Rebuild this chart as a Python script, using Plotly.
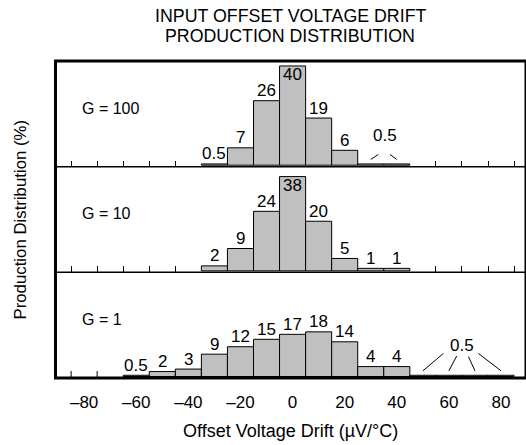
import plotly.graph_objects as go
from plotly.subplots import make_subplots

# ---------------- data ----------------
BIN_WIDTH = 10
PANEL_NAMES = ["G = 100", "G = 10", "G = 1"]

G100_X = [-30, -20, -10, 0, 10, 20, 30, 40]
G100_Y = [0.5, 7, 26, 40, 19, 6, 0.5, 0.5]

G10_X = [-30, -20, -10, 0, 10, 20, 30, 40]
G10_Y = [2, 9, 24, 38, 20, 5, 1, 1]

G1_X = [-60, -50, -40, -30, -20, -10, 0, 10, 20, 30, 40, 50, 60, 70, 80]
G1_Y = [0.5, 2, 3, 9, 12, 15, 17, 18, 14, 4, 4, 0.5, 0.5, 0.5, 0.5]

X_TICK_VALUES = [-80, -60, -40, -20, 0, 20, 40, 60, 80]

TITLE_LINES = ["INPUT OFFSET VOLTAGE DRIFT", "PRODUCTION DISTRIBUTION"]
X_TITLE = "Offset Voltage Drift (µV/°C)"
Y_TITLE = "Production Distribution (%)"

# ---------------- style / layout ----------------
W, H = 526, 445
ML, MR, MT, MB = 56, 1, 61, 66.5
PLOT_W = W - ML - MR
PLOT_H = H - MT - MB
PANEL_H = PLOT_H / 3
X_RANGE = [-90.8, 89.2]
Y_RANGE = [-0.6, 42]
FONT = "Liberation Sans, Arial, Helvetica, sans-serif"
FS_TITLE = 17.8
FS_TICK = 17
FS_XTITLE = 18
FS_YTITLE = 16.8
FS_VALUE = 17
FS_PANEL = 16
BAR_FILL = "#c0c0c0"
TICK_LEN = 6
TITLE_CENTER_PX = 290
TITLE_LINE_Y_PX = [15.5, 36]
XTITLE_Y_PX = 432
YTITLE_X_PX = 20

# callout geometry (label position and upper end of each leader line)
CALLOUTS = {
    1: dict(bars=[30, 40], label=(35.5, 12.0),
            tops=[(32.9, 4.3), (37.4, 4.3)]),
    3: dict(bars=[50, 60, 70, 80], label=(64.9, 12.6),
            tops=[(57.9, 9.3), (63.0, 8.3), (67.5, 8.0), (71.3, 9.3)]),
}

panels = [(PANEL_NAMES[0], G100_X, G100_Y),
          (PANEL_NAMES[1], G10_X, G10_Y),
          (PANEL_NAMES[2], G1_X, G1_Y)]

fig = make_subplots(rows=3, cols=1, vertical_spacing=0)

edges_all = [-85 + BIN_WIDTH * k for k in range(18)]

annotations = []
shapes = []


def fmt(v):
    return f"{v:g}"


def px_to_paper_x(px):
    return (px - ML) / PLOT_W


def px_to_paper_y(py):
    return (H - MB - py) / PLOT_H


tick_style = dict(ticks="inside", ticklen=TICK_LEN, tickwidth=1,
                  tickcolor="black")

for i, (name, xs, ys) in enumerate(panels, start=1):
    fig.add_trace(go.Bar(
        x=xs, y=ys, width=BIN_WIDTH,
        marker=dict(color=BAR_FILL, line=dict(color="black", width=1)),
        showlegend=False, hoverinfo="skip"), row=i, col=1)

    lo = min(xs) - BIN_WIDTH / 2
    hi = max(xs) + BIN_WIDTH / 2
    vis_edges = [e for e in edges_all if e < lo - 0.1 or e > hi + 0.1]

    xname = "xaxis" if i == 1 else f"xaxis{i}"
    yname = "yaxis" if i == 1 else f"yaxis{i}"
    xref = "x" if i == 1 else f"x{i}"
    yref = "y" if i == 1 else f"y{i}"

    xa = dict(range=X_RANGE, showgrid=False, zeroline=False, showline=False,
              fixedrange=True, automargin=False, tickmode="array")
    if i < 3:
        xa.update(tickvals=vis_edges, showticklabels=False, **tick_style)
    else:
        xa.update(tickvals=X_TICK_VALUES,
                  ticktext=[fmt(v).replace("-", "\u2013") for v in X_TICK_VALUES],
                  ticks="", showticklabels=True, ticklabelstandoff=12,
                  tickfont=dict(family=FONT, size=FS_TICK, color="black"))
        # bin-edge tick marks for the bottom panel
        for e in vis_edges:
            shapes.append(dict(type="line", xref=xref, yref=f"{yref} domain",
                               x0=e, x1=e, y0=0, y1=(TICK_LEN + 1) / PANEL_H,
                               line=dict(color="black", width=1)))
    fig.layout[xname].update(xa)
    fig.layout[yname].update(range=Y_RANGE, visible=False, fixedrange=True)

    # panel label
    annotations.append(dict(x=-81.6, y=23, xref=xref, yref=yref, text=name,
                            showarrow=False, xanchor="left", yanchor="middle",
                            font=dict(family=FONT, size=FS_PANEL, color="black")))

    callout = CALLOUTS.get(i)
    cbars = callout["bars"] if callout else []
    for x, v in zip(xs, ys):
        if x in cbars:
            continue
        inside = v > Y_RANGE[1] - 5
        annotations.append(dict(
            x=x, y=v, xref=xref, yref=yref, text=fmt(v), showarrow=False,
            xanchor="center", yanchor="middle",
            yshift=-9 if inside else 10,
            font=dict(family=FONT, size=FS_VALUE, color="black")))

    if callout:
        lx, ly = callout["label"]
        cvals = [ys[xs.index(b)] for b in cbars]
        annotations.append(dict(
            x=lx, y=ly, xref=xref, yref=yref, text=fmt(cvals[0]),
            showarrow=False, xanchor="center", yanchor="middle",
            font=dict(family=FONT, size=FS_VALUE, color="black")))
        for b, v, (tx, ty) in zip(cbars, cvals, callout["tops"]):
            shapes.append(dict(type="line", xref=xref, yref=yref,
                               x0=b, y0=v + 1.8, x1=tx, y1=ty,
                               line=dict(color="black", width=1)))

# dividers and frame
for yy in (1 / 3, 2 / 3):
    shapes.append(dict(type="line", xref="paper", yref="paper",
                       x0=0, x1=1, y0=yy, y1=yy,
                       line=dict(color="black", width=1.5)))
shapes.append(dict(type="rect", xref="paper", yref="paper",
                   x0=-0.5 / PLOT_W, x1=1 + 1 / PLOT_W, y0=0, y1=1,
                   line=dict(color="black", width=3)))

# titles
for line, ypx in zip(TITLE_LINES, TITLE_LINE_Y_PX):
    annotations.append(dict(
        x=px_to_paper_x(TITLE_CENTER_PX), y=px_to_paper_y(ypx),
        xref="paper", yref="paper", text=line, showarrow=False,
        xanchor="center", yanchor="middle",
        font=dict(family=FONT, size=FS_TITLE, color="black")))
annotations.append(dict(
    x=px_to_paper_x(TITLE_CENTER_PX), y=px_to_paper_y(XTITLE_Y_PX),
    xref="paper", yref="paper", text=X_TITLE, showarrow=False,
    xanchor="center", yanchor="middle",
    font=dict(family=FONT, size=FS_XTITLE, color="black")))
annotations.append(dict(
    x=px_to_paper_x(YTITLE_X_PX), y=0.5, xref="paper", yref="paper",
    text=Y_TITLE, textangle=-90, showarrow=False,
    xanchor="center", yanchor="middle",
    font=dict(family=FONT, size=FS_YTITLE, color="black")))

fig.update_layout(
    width=W, height=H,
    margin=dict(l=ML, r=MR, t=MT, b=MB, pad=0, autoexpand=False),
    paper_bgcolor="white", plot_bgcolor="white",
    bargap=0,
    annotations=annotations,
    shapes=shapes,
    showlegend=False,
)

fig.write_html(
    "out.html",
    config={"displayModeBar": False, "staticPlot": True},
    post_script="document.body.style.margin='0';"
                "document.body.style.padding='0';"
                "document.body.style.overflow='hidden';",
)
